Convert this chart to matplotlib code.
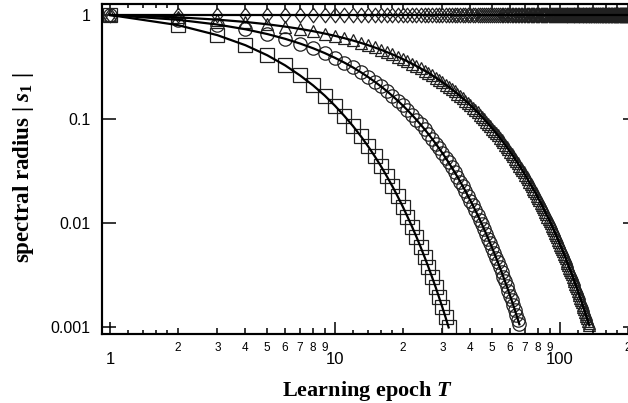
import numpy as np
import matplotlib
matplotlib.use('Agg')
import matplotlib.pyplot as plt
from matplotlib.ticker import NullLocator

# ---------------- data ----------------
radius_sq = [1.0, 0.8, 0.64, 0.512, 0.41, 0.328, 0.262, 0.21, 0.168, 0.134,
             0.107, 0.0859, 0.0687, 0.055, 0.044, 0.0352, 0.0281, 0.0225, 0.018, 0.0144,
             0.0115, 0.00922, 0.00738, 0.0059, 0.00472, 0.00378, 0.00302, 0.00242, 0.00193, 0.00155,
             0.00124, 0.00099]

radius_circ = [1.0, 0.9, 0.81, 0.729, 0.6561, 0.5905, 0.5314, 0.4783, 0.4305, 0.3874,
               0.3487, 0.3138, 0.2824, 0.2542, 0.2288, 0.2059, 0.1853, 0.1668, 0.1501, 0.1351,
               0.1216, 0.1094, 0.0985, 0.0886, 0.0798, 0.0718, 0.0646, 0.0581, 0.0523, 0.0471,
               0.0424, 0.0382, 0.0343, 0.0309, 0.0278, 0.025, 0.0225, 0.0203, 0.0182, 0.0164,
               0.0148, 0.0133, 0.012, 0.0108, 0.0097, 0.00873, 0.00786, 0.00707, 0.00636, 0.00573,
               0.00515, 0.00464, 0.00417, 0.00376, 0.00338, 0.00304, 0.00274, 0.00247, 0.00222, 0.002,
               0.0018, 0.00162, 0.00146, 0.00131, 0.00118, 0.00106]

radius_tri = [1.0, 0.95, 0.9025, 0.8574, 0.8145, 0.7738, 0.7351, 0.6983, 0.6634, 0.6302,
              0.5987, 0.5688, 0.5404, 0.5133, 0.4877, 0.4633, 0.4401, 0.4181, 0.3972, 0.3774,
              0.3585, 0.3406, 0.3235, 0.3074, 0.292, 0.2774, 0.2635, 0.2503, 0.2378, 0.2259,
              0.2146, 0.2039, 0.1937, 0.184, 0.1748, 0.1661, 0.1578, 0.1499, 0.1424, 0.1353,
              0.1285, 0.1221, 0.116, 0.1102, 0.1047, 0.0994, 0.0945, 0.0897, 0.0853, 0.081,
              0.0769, 0.0731, 0.0694, 0.066, 0.0627, 0.0595, 0.0566, 0.0537, 0.051, 0.0485,
              0.0461, 0.0438, 0.0416, 0.0395, 0.0375, 0.0356, 0.0339, 0.0322, 0.0306, 0.029,
              0.0276, 0.0262, 0.0249, 0.0236, 0.0225, 0.0213, 0.0203, 0.0193, 0.0183, 0.0174,
              0.0165, 0.0157, 0.0149, 0.0142, 0.0135, 0.0128, 0.0121, 0.0115, 0.011, 0.0104,
              0.0099, 0.0094, 0.0089, 0.0085, 0.0081, 0.0077, 0.0073, 0.0069, 0.0066, 0.0062,
              0.00592, 0.005625, 0.005344, 0.005076, 0.004823, 0.004581, 0.004352, 0.004135, 0.003928, 0.003732,
              0.003545, 0.003368, 0.0032, 0.00304, 0.002888, 0.002743, 0.002606, 0.002476, 0.002352, 0.002234,
              0.002122, 0.002016, 0.001916, 0.00182, 0.001729, 0.001642, 0.00156, 0.001482, 0.001408, 0.001338,
              0.001271, 0.001207, 0.001147, 0.00109, 0.001035]

radius_dia = [1.0, 1.0, 1.0, 1.0, 1.0, 1.0, 1.0, 1.0, 1.0, 1.0, 1.0, 1.0, 1.0, 1.0, 1.0, 1.0, 1.0, 1.0, 1.0, 1.0,
              1.0, 1.0, 1.0, 1.0, 1.0, 1.0, 1.0, 1.0, 1.0, 1.0, 1.0, 1.0, 1.0, 1.0, 1.0, 1.0, 1.0, 1.0, 1.0, 1.0,
              1.0, 1.0, 1.0, 1.0, 1.0, 1.0, 1.0, 1.0, 1.0, 1.0, 1.0, 1.0, 1.0, 1.0, 1.0, 1.0, 1.0, 1.0, 1.0, 1.0,
              1.0, 1.0, 1.0, 1.0, 1.0, 1.0, 1.0, 1.0, 1.0, 1.0, 1.0, 1.0, 1.0, 1.0, 1.0, 1.0, 1.0, 1.0, 1.0, 1.0,
              1.0, 1.0, 1.0, 1.0, 1.0, 1.0, 1.0, 1.0, 1.0, 1.0, 1.0, 1.0, 1.0, 1.0, 1.0, 1.0, 1.0, 1.0, 1.0, 1.0,
              1.0, 1.0, 1.0, 1.0, 1.0, 1.0, 1.0, 1.0, 1.0, 1.0, 1.0, 1.0, 1.0, 1.0, 1.0, 1.0, 1.0, 1.0, 1.0, 1.0,
              1.0, 1.0, 1.0, 1.0, 1.0, 1.0, 1.0, 1.0, 1.0, 1.0, 1.0, 1.0, 1.0, 1.0, 1.0, 1.0, 1.0, 1.0, 1.0, 1.0,
              1.0, 1.0, 1.0, 1.0, 1.0, 1.0, 1.0, 1.0, 1.0, 1.0, 1.0, 1.0, 1.0, 1.0, 1.0, 1.0, 1.0, 1.0, 1.0, 1.0,
              1.0, 1.0, 1.0, 1.0, 1.0, 1.0, 1.0, 1.0, 1.0, 1.0, 1.0, 1.0, 1.0, 1.0, 1.0, 1.0, 1.0, 1.0, 1.0, 1.0,
              1.0, 1.0, 1.0, 1.0, 1.0, 1.0, 1.0, 1.0, 1.0, 1.0, 1.0, 1.0, 1.0, 1.0, 1.0, 1.0, 1.0, 1.0, 1.0, 1.0,
              1.0, 1.0, 1.0, 1.0, 1.0, 1.0, 1.0, 1.0, 1.0, 1.0, 1.0, 1.0, 1.0, 1.0, 1.0, 1.0, 1.0, 1.0, 1.0, 1.0]

x_major_ticks = [1, 10, 100]
x_major_labels = ['1', '10', '100']
x_minor_ticks = [2, 3, 4, 5, 6, 7, 8, 9, 20, 30, 40, 50, 60, 70, 80, 90, 200]
x_minor_labels = ['2', '3', '4', '5', '6', '7', '8', '9',
                  '2', '3', '4', '5', '6', '7', '8', '9', '2']
x_fine_ticks = [1.2, 1.4, 1.6, 1.8, 12, 14, 16, 18, 120, 140, 160, 180]
y_ticks = [1, 0.1, 0.01, 0.001]
y_labels = ['1', '0.1', '0.01', '0.001']

xlabel_text = 'Learning epoch $T$'
ylabel_text = 'spectral radius | $s_1$ |'

# ---------------- style ----------------
plt.rcParams['font.family'] = ['Liberation Sans', 'DejaVu Sans']
plt.rcParams['mathtext.fontset'] = 'custom'
plt.rcParams['mathtext.rm'] = 'Liberation Serif:bold'
plt.rcParams['mathtext.it'] = 'Liberation Serif:italic:bold'
plt.rcParams['mathtext.bf'] = 'Liberation Serif:bold'

W, H = 628, 403
fig = plt.figure(figsize=(W / 100, H / 100), dpi=100)
ax = fig.add_axes([102 / W, 69 / H, 535 / W, 330 / H])
ax.set_xscale('log')
ax.set_yscale('log')
ax.set_xlim(0.921, 220)
ax.set_ylim(0.000856, 1.276)

diamond = [(-0.75, 0), (0, 1), (0.75, 0), (0, -1), (-0.75, 0)]

series = [
    (radius_sq, 's', 9.4),
    (radius_circ, 'o', 9.6),
    (radius_tri, '^', 8.2),
    (radius_dia, diamond, 10.5),
]
for vals, mk, ms in series:
    t = np.arange(1, len(vals) + 1)
    ax.plot(t, vals, linestyle='none', marker=mk, markersize=ms,
            markerfacecolor='none', markeredgecolor='#202020',
            markeredgewidth=0.9, zorder=2)
for vals, mk, ms in series:
    t = np.arange(1, len(vals) + 1)
    ax.plot(t, vals, color='black', lw=1.6, zorder=3)

# fine (unlabeled) ticks via twin axis
ax2 = ax.twiny()
ax2.set_xscale('log')
ax2.set_xlim(ax.get_xlim())
ax2.set_xticks(x_fine_ticks)
ax2.xaxis.set_minor_locator(NullLocator())
ax2.tick_params(axis='x', which='major', direction='in', length=2.6, width=1.1,
                top=True, bottom=True, labeltop=False, labelbottom=False)
ax2.patch.set_visible(False)

ax.set_xticks(x_major_ticks, labels=x_major_labels)
ax.set_xticks(x_minor_ticks, labels=x_minor_labels, minor=True)
ax.set_yticks(y_ticks, labels=y_labels)
ax.yaxis.set_minor_locator(NullLocator())

ax.tick_params(axis='x', which='major', direction='in', length=8.6, width=1.1,
               top=True, bottom=True, labelsize=12, pad=13.0)
ax.tick_params(axis='x', which='minor', direction='in', length=4.3, width=1.1,
               top=True, bottom=True, labelsize=8.5, pad=5.5)
ax.tick_params(axis='y', which='major', direction='in', length=10, width=1.1,
               left=True, right=True, labelsize=11.5, pad=8.5)

for a in (ax, ax2):
    for sp in a.spines.values():
        sp.set_linewidth(1.5)

fig.text(367 / W, 1 - 391 / H, xlabel_text, ha='center', va='center',
         fontsize=16, fontweight='bold', family='Liberation Serif')
fig.text(24 / W, 1 - 168 / H, ylabel_text, ha='center', va='center', rotation=90,
         fontsize=16.5, fontweight='bold', family='Liberation Serif')

fig.savefig('out.png', dpi=100)
